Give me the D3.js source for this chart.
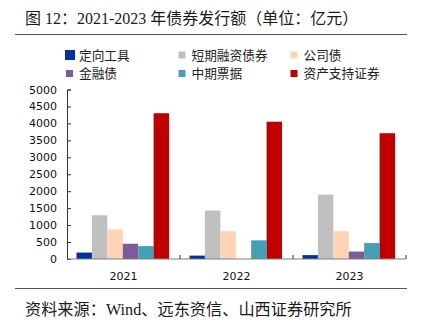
<!DOCTYPE html>
<html><head><meta charset="utf-8">
<script src="https://cdn.jsdelivr.net/npm/d3@7"></script>
<style>
html,body{margin:0;padding:0;background:#fff;}
svg{display:block;}
</style></head>
<body>
<svg id="c" width="424" height="335"></svg>
<script>
const years = ["2021", "2022", "2023"];
const seriesNames = ["定向工具", "短期融资债券", "公司债", "金融债", "中期票据", "资产支持证券"];
const seriesColors = ["#003399", "#c0c0c0", "#fdd5b6", "#7b5b9b", "#45a0b6", "#c00000"];
const dingxiang = [190, 100, 115];
const duanqi = [1290, 1430, 1900];
const gongsi = [870, 820, 820];
const jinrong = [450, 0, 220];
const zhongqi = [380, 550, 470];
const zichan = [4300, 4050, 3710];
const seriesValues = [dingxiang, duanqi, gongsi, jinrong, zhongqi, zichan];
const yTicks = [0, 500, 1000, 1500, 2000, 2500, 3000, 3500, 4000, 4500, 5000];
const titleText = "图 12：2021-2023 年债券发行额（单位：亿元）";
const sourceText = "资料来源：Wind、远东资信、山西证券研究所";

const svg = d3.select("#c");
const serif = "'Liberation Serif','Times New Roman','Noto Sans CJK SC',serif";
const sans = "'DejaVu Sans','Noto Sans CJK SC',sans-serif";

// title & rules
svg.append("text").attr("x", 25).attr("y", 24).attr("font-family", serif)
  .attr("font-size", 16).attr("fill", "#1a1a1a").text(titleText);
svg.append("line").attr("x1", 15).attr("x2", 407).attr("y1", 34.5).attr("y2", 34.5)
  .attr("stroke", "#555").attr("stroke-width", 1);
svg.append("line").attr("x1", 15).attr("x2", 407).attr("y1", 288.5).attr("y2", 288.5)
  .attr("stroke", "#555").attr("stroke-width", 1);
svg.append("text").attr("x", 25).attr("y", 315).attr("font-family", serif)
  .attr("font-size", 16.2).attr("fill", "#1a1a1a").text(sourceText);

// scales
const x0 = d3.scaleBand().domain(years).range([67, 406]).padding(0);
const x1 = d3.scaleBand().domain(seriesNames).range([9.5, 102]).padding(0);
const y = d3.scaleLinear().domain([0, 5000]).range([259, 89.5]);

// bars
const g = svg.append("g");
years.forEach((yr, i) => {
  seriesNames.forEach((s, j) => {
    const v = seriesValues[j][i];
    if (v <= 0) return;
    g.append("rect")
      .attr("x", x0(yr) + x1(s))
      .attr("y", y(v))
      .attr("width", x1.bandwidth())
      .attr("height", y(0) - y(v))
      .attr("fill", seriesColors[j]);
  });
});

// y axis
const yAxis = d3.axisLeft(y).tickValues(yTicks).tickFormat(d3.format("d"))
  .tickSize(-4).tickPadding(10).tickSizeOuter(-4);
const ya = svg.append("g").attr("transform", "translate(67,0)").call(yAxis);
ya.select(".domain").attr("stroke", "#333");
ya.selectAll(".tick line").attr("stroke", "#333");
ya.selectAll("text").attr("font-family", sans).attr("font-size", 11).attr("fill", "#111");

// x axis
const xa = svg.append("g").attr("transform", "translate(0,259)");
xa.append("line").attr("x1", 67).attr("x2", 406).attr("y1", 0).attr("y2", 0)
  .attr("stroke", "#808080").attr("stroke-width", 1.2);
years.forEach(yr => {
  const xe = x0(yr) + x0.bandwidth();
  xa.append("line").attr("x1", xe).attr("x2", xe).attr("y1", 0).attr("y2", -4)
    .attr("stroke", "#333");
  xa.append("text").attr("x", x0(yr) + x0.bandwidth() / 2).attr("y", 21)
    .attr("text-anchor", "middle").attr("font-family", sans).attr("font-size", 11)
    .attr("fill", "#111").text(yr);
});

// legend
const legX = [65, 177.5, 289.5];
const legY = [55, 73.5];
seriesNames.forEach((s, j) => {
  const col = j % 3, row = Math.floor(j / 3);
  const sz = j === 0 ? 10 : 7;
  svg.append("rect").attr("x", legX[col] + (j === 0 ? 0 : 1)).attr("y", legY[row] - sz / 2)
    .attr("width", sz).attr("height", sz).attr("fill", seriesColors[j]);
  svg.append("text").attr("x", legX[col] + 14).attr("y", legY[row] + 4.5)
    .attr("font-family", "'Noto Sans CJK SC',sans-serif").attr("font-size", 12.7)
    .attr("fill", "#222").text(s);
});
</script>
</body></html>
